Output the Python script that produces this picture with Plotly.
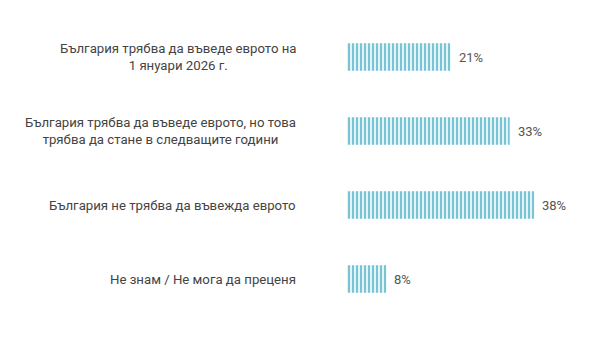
import plotly.graph_objects as go

categories = [
    "България трябва да въведе еврото на<br>1 януари 2026 г.",
    "България трябва да въведе еврото, но това<br>трябва да стане в следващите години",
    "България не трябва да въвежда еврото",
    "Не знам / Не мога да преценя",
]
values = [21, 33, 38, 8]
value_labels = [f"{v}%" for v in values]

FONT = "Roboto"
fig = go.Figure()
fig.add_trace(go.Bar(
    x=values,
    y=list(range(len(values))),
    orientation="h",
    width=0.37,
    marker=dict(
        color="white",
        line=dict(width=0),
        pattern=dict(shape="|", size=4.0, solidity=0.6, fgcolor="#78c3d4", bgcolor="white",
                     fillmode="replace", fgopacity=1),
    ),
    hoverinfo="skip",
))

for i, (v, t) in enumerate(zip(values, value_labels)):
    fig.add_annotation(
        x=v, y=i, xref="x", yref="y",
        text=t, showarrow=False,
        xanchor="left", yanchor="middle",
        xshift=6,
        font=dict(family=FONT, size=13, color="#555555"),
    )

for i, c in enumerate(categories):
    fig.add_annotation(
        x=0, y=i, xref="paper", yref="y",
        text=c, showarrow=False,
        xanchor="right", yanchor="middle", align="center",
        xshift=-49,
        font=dict(family=FONT, size=13.2, color="#444444"),
    )

fig.update_layout(
    width=595, height=344,
    margin=dict(l=347, r=0, t=20, b=28),
    paper_bgcolor="white", plot_bgcolor="white",
    showlegend=False,
    xaxis=dict(range=[0, 50.3], visible=False),
    yaxis=dict(range=[3.5, -0.5], visible=False),
)
fig.write_html("out.html")
